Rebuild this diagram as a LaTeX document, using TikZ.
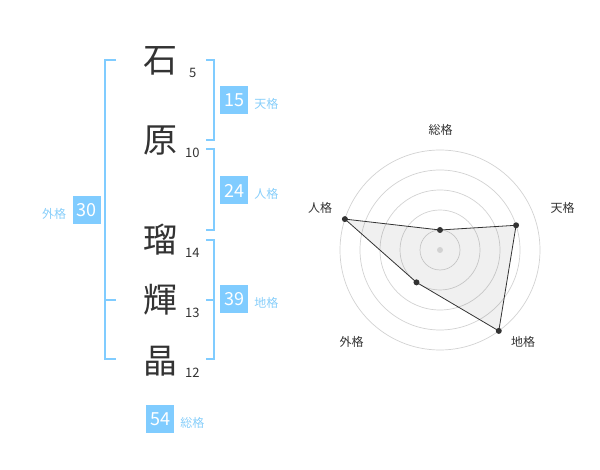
\documentclass[tikz,border=0pt]{standalone}
\usepackage{fontspec}
\setmainfont{Noto Sans CJK JP}
\usepackage{tikz}
\usetikzlibrary{positioning}
\usepackage{xcolor}
\definecolor{nmblue}{RGB}{128,204,255}
\definecolor{nmlabel}{RGB}{135,206,250}
\definecolor{nmink}{RGB}{51,51,51}
\definecolor{nmring}{RGB}{210,210,210}
\tikzstyle{kanji} = [font=\fontsize{34}{34}\selectfont, text=nmink, inner sep=0pt]
\tikzstyle{strokes} = [font=\fontsize{13}{13}\selectfont, text=nmink, inner sep=0pt, anchor=west]
\tikzstyle{score} = [rectangle, fill=nmblue, text=white, minimum width=28pt, minimum height=28pt, inner sep=0pt, font=\fontsize{18}{18}\selectfont]
\tikzstyle{kaku} = [font=\fontsize{12}{12}\selectfont, text=nmlabel, inner sep=0pt, yshift=-3.5pt]
\tikzstyle{bracket} = [line width=2pt, draw=nmblue]
\tikzstyle{ring} = [draw=nmring, line width=0.7pt]
\tikzstyle{axis} = [font=\fontsize{12}{12}\selectfont, text=nmink, inner sep=0pt]
\tikzstyle{dot} = [circle, fill=nmink, inner sep=0pt, minimum size=6pt]

\begin{document}
\begin{tikzpicture}[x=1pt, y=-1pt]
\useasboundingbox (0,0) rectangle (600,470);
% name
\node (c1) [kanji] at (160,61) {石};
\node (c2) [kanji] at (160,141) {原};
\node (c3) [kanji] at (160,240) {瑠};
\node (c4) [kanji] at (160,300) {輝};
\node (c5) [kanji] at (160,361) {晶};
\node (s1) [strokes] at (189,73) {5};
\node (s2) [strokes] at (185,153) {10};
\node (s3) [strokes] at (185,253) {14};
\node (s4) [strokes] at (185,313) {13};
\node (s5) [strokes] at (185,373) {12};

% brackets
\draw[bracket] (206,60) -| (214,140) -- (206,140);
\draw[bracket] (206,149) -| (214,230) -- (206,230);
\draw[bracket] (206,240) -| (214,359) -- (206,359);
\draw[bracket] (206,300) -- (214,300);
\draw[bracket] (116,60) -| (105,359) -- (116,359);
\draw[bracket] (105,300) -- (116,300);

% scores
\node (ten) [score] at (234,100.5) {15};
\node (tenlbl) [kaku, right=6pt of ten] {天格};
\node (jin) [score] at (234,190.5) {24};
\node (jinlbl) [kaku, right=6pt of jin] {人格};
\node (chi) [score] at (234,299.5) {39};
\node (chilbl) [kaku, right=6pt of chi] {地格};
\node (gai) [score] at (86.5,210) {30};
\node (gailbl) [kaku, left=6pt of gai] {外格};
\node (sou) [score] at (160,419) {54};
\node (soulbl) [kaku, right=6pt of sou] {総格};

% radar chart
\begin{scope}[shift={(440,250)}]
\coordinate (o) at (0,0);
\foreach \r in {20,40,...,100}
  \draw[ring] (o) circle[radius=\r];
\coordinate (p1) at (-90:20);
\coordinate (p2) at (-18:80);
\coordinate (p3) at (54:100);
\coordinate (p4) at (126:40);
\coordinate (p5) at (198:100);
\draw[draw=nmink, line width=0.8pt, fill=black, fill opacity=0.06] (p1) -- (p2) -- (p3) -- (p4) -- (p5) -- cycle;
\node[circle, fill=nmring, inner sep=0pt, minimum size=6pt] at (o) {};
\foreach \p in {p1,p2,p3,p4,p5}
  \node[dot] at (\p) {};
\end{scope}
\node (ax1) [axis] at (440.7,130) {総格};
\node (ax2) [axis] at (562.7,208) {天格};
\node (ax3) [axis] at (523,342) {地格};
\node (ax4) [axis] at (351.7,342) {外格};
\node (ax5) [axis] at (320,208) {人格};
\end{tikzpicture}
\end{document}
